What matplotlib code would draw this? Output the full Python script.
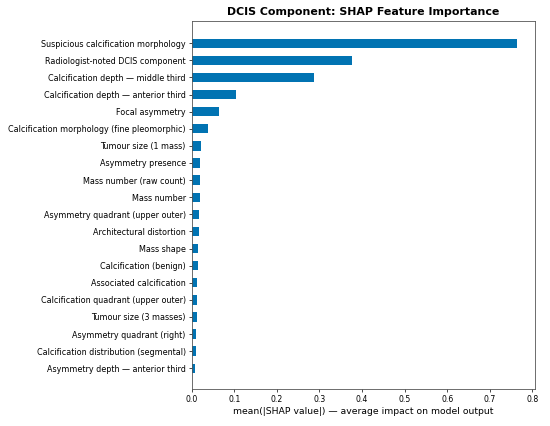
import matplotlib
matplotlib.use("Agg")
import matplotlib.pyplot as plt

features = [
    "Suspicious calcification morphology",
    "Radiologist-noted DCIS component",
    "Calcification depth — middle third",
    "Calcification depth — anterior third",
    "Focal asymmetry",
    "Calcification morphology (fine pleomorphic)",
    "Tumour size (1 mass)",
    "Asymmetry presence",
    "Mass number (raw count)",
    "Mass number",
    "Asymmetry quadrant (upper outer)",
    "Architectural distortion",
    "Mass shape",
    "Calcification (benign)",
    "Associated calcification",
    "Calcification quadrant (upper outer)",
    "Tumour size (3 masses)",
    "Asymmetry quadrant (right)",
    "Calcification distribution (segmental)",
    "Asymmetry depth — anterior third",
]
values = [0.763, 0.376, 0.287, 0.103, 0.0635, 0.0387, 0.023, 0.020, 0.020, 0.0186,
          0.017, 0.017, 0.0155, 0.0147, 0.0132, 0.0132, 0.0116, 0.0101, 0.0093, 0.0085]
xticks = [0.0, 0.1, 0.2, 0.3, 0.4, 0.5, 0.6, 0.7, 0.8]

fig = plt.figure(figsize=(5.5, 4.26), dpi=100)
ax = fig.add_axes([191.7/550, 1-389/426, (535-191.7)/550, (389-21)/426])
pos = list(range(len(features)))
ax.barh(pos, values, height=0.55, color="#0173B2")
ax.set_yticks(pos)
ax.set_yticklabels(features, fontsize=5.8)
ax.set_ylim(len(features) - 1 + 1.21, -1.30)
ax.set_xlim(0, 0.8063)
ax.set_xticks(xticks)
ax.set_xticklabels([f"{t:.1f}" for t in xticks], fontsize=5.6)
ax.tick_params(length=2.2, width=0.5, pad=2)
ax.set_xlabel("mean(|SHAP value|) — average impact on model output", fontsize=6.7, labelpad=2)
ax.set_title("DCIS Component: SHAP Feature Importance", fontsize=7.9, fontweight="bold", pad=4)
for s in ax.spines.values():
    s.set_color("#555555")
    s.set_linewidth(0.6)
fig.savefig("out.png", dpi=100)
